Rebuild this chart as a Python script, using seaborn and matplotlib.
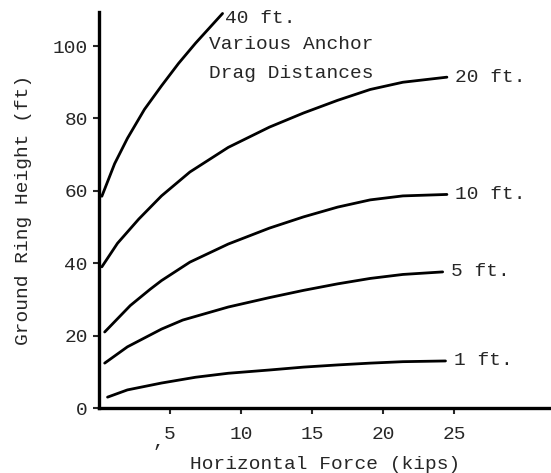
import pandas as pd
import matplotlib.pyplot as plt
import seaborn as sns

# curve data (force in kips, height in ft)
force_1ft = [0.6, 2.0, 4.4, 6.8, 9.1, 12.0, 14.4, 16.8, 19.1, 21.4, 24.4]
height_1ft = [3.0, 5.0, 6.9, 8.5, 9.6, 10.5, 11.3, 11.9, 12.4, 12.8, 13.0]

force_5ft = [0.4, 2.0, 4.4, 5.9, 9.1, 12.0, 14.4, 16.8, 19.1, 21.4, 24.2]
height_5ft = [12.4, 16.9, 21.8, 24.3, 27.9, 30.5, 32.5, 34.3, 35.8, 36.9, 37.6]

force_10ft = [0.4, 2.2, 3.6, 4.4, 6.4, 9.1, 12.0, 14.4, 16.8, 19.1, 21.4, 24.5]
height_10ft = [21.0, 28.3, 32.8, 35.2, 40.3, 45.3, 49.7, 52.8, 55.5, 57.5, 58.6, 59.0]

force_20ft = [0.2, 1.3, 2.8, 4.4, 6.4, 9.1, 12.0, 14.4, 16.8, 19.1, 21.4, 24.5]
height_20ft = [39.0, 45.5, 52.2, 58.6, 65.2, 72.0, 77.6, 81.5, 85.0, 88.0, 90.0, 91.4]

force_40ft = [0.2, 1.1, 2.0, 3.2, 4.4, 5.6, 6.8, 8.7]
height_40ft = [58.5, 67.5, 74.5, 82.5, 89.0, 95.2, 100.8, 109.0]

curve_labels = ["1 ft.", "5 ft.", "10 ft.", "20 ft.", "40 ft."]
x_ticks = [5, 10, 15, 20, 25]
y_ticks = [0, 20, 40, 60, 80, 100]

curves = [
    (force_1ft, height_1ft),
    (force_5ft, height_5ft),
    (force_10ft, height_10ft),
    (force_20ft, height_20ft),
    (force_40ft, height_40ft),
]

sns.set_theme(style="ticks")
plt.rcParams["font.family"] = ["Liberation Mono", "DejaVu Sans Mono"]
plt.rcParams["font.size"] = 14

fig = plt.figure(figsize=(5.51, 4.73), dpi=100)
ax = fig.add_axes([0.1797, 0.1374, 0.8203, 0.8372])

for (fx, hy), name in zip(curves, curve_labels):
    df = pd.DataFrame({"force": fx, "height": hy})
    sns.lineplot(data=df, x="force", y="height", color="black", linewidth=2.0,
                 sort=False, estimator=None, ax=ax, clip_on=False,
                 solid_joinstyle="round", solid_capstyle="round")
    if name != "40 ft.":
        ax.text(fx[-1] + 0.6, hy[-1], name, va="center", ha="left", fontsize=14)

# the 40 ft. curve is labelled up at its top end, next to the title text
ax.text(8.9, 107.7, "40 ft.", va="center", ha="left", fontsize=14)
ax.text(7.75, 100.3, "Various Anchor", va="center", ha="left", fontsize=14)
ax.text(7.75, 92.5, "Drag Distances", va="center", ha="left", fontsize=14)
ax.text(4.2, -9.5, ",", va="center", ha="center", fontsize=14)

ax.set_xlim(0, 31.83)
ax.set_ylim(0, 109.4)
ax.set_xticks(x_ticks)
ax.set_yticks(y_ticks)
ax.set_xlabel("Horizontal Force (kips)", fontsize=14, labelpad=9)
ax.set_ylabel("Ground Ring Height (ft)", fontsize=14, labelpad=15)
ax.tick_params(axis="x", direction="out", length=4, width=1.5, pad=9, labelsize=14)
ax.tick_params(axis="y", direction="out", length=4, width=1.5, pad=4, labelsize=14)

sns.despine(ax=ax)
for side in ["left", "bottom"]:
    ax.spines[side].set_linewidth(2.4)
    ax.spines[side].set_color("black")

fig.savefig("out.png", dpi=100)
